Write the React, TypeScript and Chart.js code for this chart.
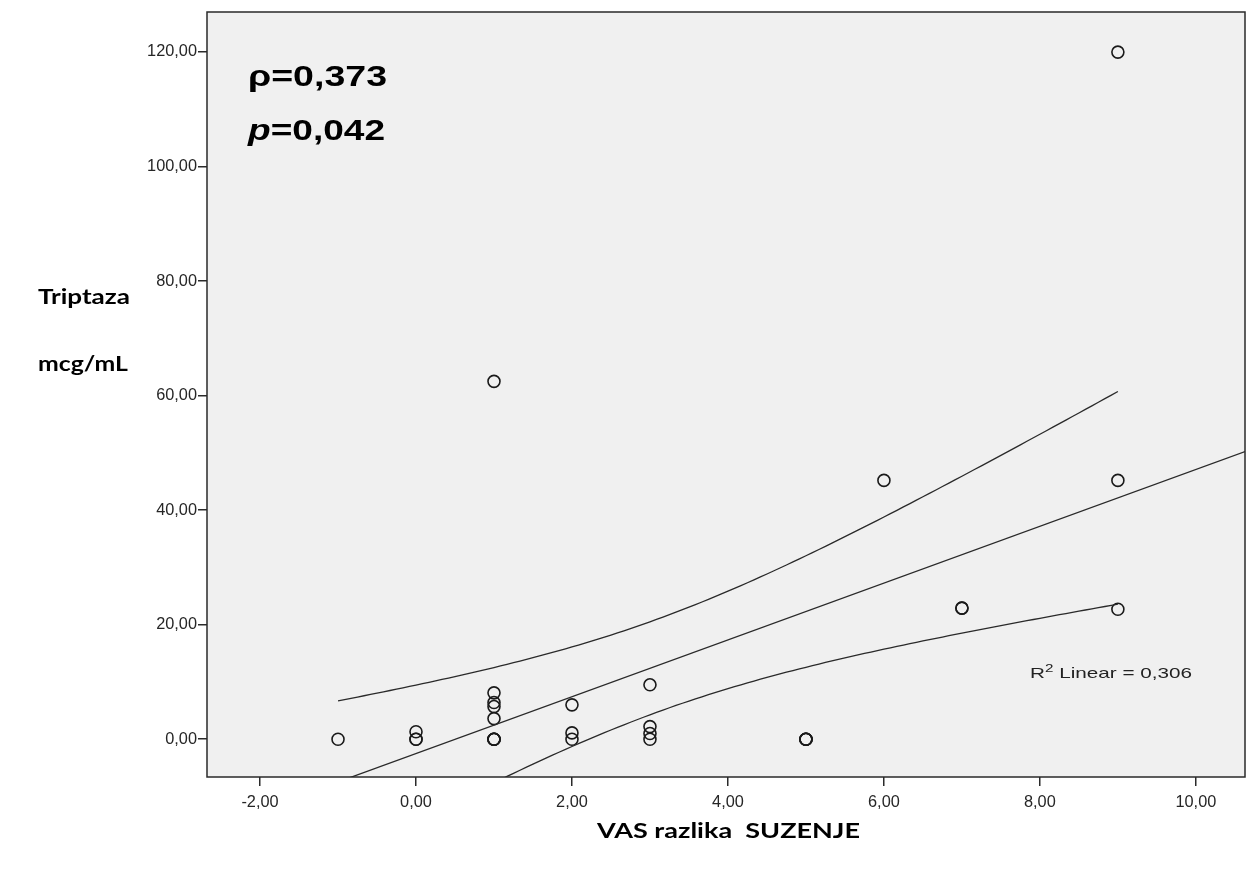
import React, { useEffect, useRef } from "react";
import { Chart, registerables } from "chart.js";

Chart.register(...registerables);

// ---- data ----
const vasDiff = [-1, 0, 0, 0, 1, 1, 1, 1, 1, 1, 1, 1, 1, 2, 2, 2, 3, 3, 3, 3, 5, 5, 5, 5, 6, 7, 7, 9, 9, 9];
const tryptase = [0, 1.3, 0, 0, 62.5, 8.1, 6.4, 5.7, 3.6, 0, 0, 0, 0, 6.0, 1.1, 0, 9.5, 2.2, 1.0, 0, 0, 0, 0, 0, 45.2, 22.9, 22.9, 120, 45.2, 22.7];
const xTicks = [-2, 0, 2, 4, 6, 8, 10];
const yTicks = [0, 20, 40, 60, 80, 100, 120];
const xLimits = [-2.68, 10.63];
const yLimits = [-6.6, 127];
const T_CRIT = 2.048; // t(0.975, df = n - 2 = 28)

const rhoText = "ρ=0,373";
const pText = "=0,042";
const r2Text = " Linear = 0,306";
const xTitle = "VAS razlika  SUZENJE";
const yTitle1 = "Triptaza";
const yTitle2 = "mcg/mL";

function regression(xs: number[], ys: number[]) {
  const n = xs.length;
  const mx = xs.reduce((a, b) => a + b, 0) / n;
  const my = ys.reduce((a, b) => a + b, 0) / n;
  let sxx = 0, sxy = 0, syy = 0;
  for (let i = 0; i < n; i++) {
    sxx += (xs[i] - mx) ** 2;
    sxy += (xs[i] - mx) * (ys[i] - my);
    syy += (ys[i] - my) ** 2;
  }
  const b = sxy / sxx;
  const a = my - b * mx;
  const s = Math.sqrt((syy - b * sxy) / (n - 2));
  return { a, b, mx, sxx, s, n };
}

const fmt = (v: number) => v.toFixed(2).replace(".", ",");

function drawFitted(ctx: CanvasRenderingContext2D, text: string, x: number, y: number, font: string, width: number) {
  ctx.save();
  ctx.font = font;
  const w = ctx.measureText(text).width;
  ctx.translate(x, y);
  ctx.scale(width / w, 1);
  ctx.textAlign = "left";
  ctx.textBaseline = "alphabetic";
  ctx.fillText(text, 0, 0);
  ctx.restore();
}

export default function App() {
  const ref = useRef<HTMLCanvasElement>(null);

  useEffect(() => {
    if (!ref.current) return;
    const fit = regression(vasDiff, tryptase);
    const xmin = Math.min(...vasDiff);
    const xmax = Math.max(...vasDiff);
    const upper: { x: number; y: number }[] = [];
    const lower: { x: number; y: number }[] = [];
    const steps = 120;
    for (let i = 0; i <= steps; i++) {
      const x = xmin + ((xmax - xmin) * i) / steps;
      const yh = fit.a + fit.b * x;
      const hw = T_CRIT * fit.s * Math.sqrt(1 / fit.n + (x - fit.mx) ** 2 / fit.sxx);
      upper.push({ x, y: yh + hw });
      lower.push({ x, y: yh - hw });
    }
    const line = [xLimits[0], xLimits[1]].map((x) => ({ x, y: fit.a + fit.b * x }));

    const SX = 1.02;
    const tickFont = "16px 'Liberation Sans', Arial, sans-serif";

    const decor = {
      id: "decor",
      beforeDraw(chart: any) {
        const { ctx, chartArea: ca } = chart;
        ctx.save();
        ctx.fillStyle = "#f0f0f0";
        ctx.fillRect(ca.left, ca.top, ca.right - ca.left, ca.bottom - ca.top);
        ctx.restore();
      },
      afterDraw(chart: any) {
        const { ctx, chartArea: ca } = chart;
        const xs = chart.scales.x;
        const ys = chart.scales.y;
        ctx.save();
        ctx.strokeStyle = "#2a2a2a";
        ctx.lineWidth = 1.5;
        ctx.strokeRect(ca.left, ca.top, ca.right - ca.left, ca.bottom - ca.top);

        // tick labels
        ctx.fillStyle = "#262626";
        ctx.font = tickFont;
        for (const t of ys.ticks) {
          const py = ys.getPixelForValue(t.value);
          ctx.save();
          ctx.translate(ca.left - 10, py);
          ctx.scale(SX, 1);
          ctx.textAlign = "right";
          ctx.textBaseline = "middle";
          ctx.fillText(fmt(t.value), 0, 0);
          ctx.restore();
        }
        for (const t of xs.ticks) {
          const px = xs.getPixelForValue(t.value);
          ctx.save();
          ctx.translate(px, ca.bottom + 18);
          ctx.scale(SX, 1);
          ctx.textAlign = "center";
          ctx.textBaseline = "top";
          ctx.fillText(fmt(t.value), 0, 0);
          ctx.restore();
        }

        // annotations
        ctx.fillStyle = "#000";
        drawFitted(ctx, rhoText, ca.left + 41, ca.top + 74, "bold 30px 'Liberation Sans', Arial, sans-serif", 139);
        // p=0,042 (italic p)
        {
          const f1 = "italic bold 30px 'Liberation Sans', Arial, sans-serif";
          const f2 = "bold 30px 'Liberation Sans', Arial, sans-serif";
          ctx.save();
          ctx.font = f1;
          const w1 = ctx.measureText("p").width;
          ctx.font = f2;
          const w2 = ctx.measureText(pText).width;
          const s = 137 / (w1 + w2);
          ctx.translate(ca.left + 41, ca.top + 128);
          ctx.scale(s, 1);
          ctx.textBaseline = "alphabetic";
          ctx.font = f1;
          ctx.fillText("p", 0, 0);
          ctx.font = f2;
          ctx.fillText(pText, w1, 0);
          ctx.restore();
        }
        // R² label
        {
          const fBig = "15px 'Liberation Sans', Arial, sans-serif";
          const fSup = "11px 'Liberation Sans', Arial, sans-serif";
          ctx.save();
          ctx.fillStyle = "#222";
          ctx.font = fBig;
          const wR = ctx.measureText("R").width;
          const wRest = ctx.measureText(r2Text).width;
          ctx.font = fSup;
          const w2 = ctx.measureText("2").width;
          const s = 162 / (wR + w2 + wRest);
          ctx.translate(1030, ys.getPixelForValue(0) - 61);
          ctx.scale(s, 1);
          ctx.textBaseline = "alphabetic";
          ctx.font = fBig;
          ctx.fillText("R", 0, 0);
          ctx.font = fSup;
          ctx.fillText("2", wR, -6);
          ctx.font = fBig;
          ctx.fillText(r2Text, wR + w2, 0);
          ctx.restore();
        }

        // axis titles
        ctx.fillStyle = "#000";
        const titleFont = "bold 20px Lato, 'Open Sans', sans-serif";
        drawFitted(ctx, yTitle1, 38, 304, titleFont, 92);
        drawFitted(ctx, yTitle2, 38, 371, titleFont, 90);
        drawFitted(ctx, xTitle, 597, 838, titleFont, 263);
        ctx.restore();
      },
    };

    const chart = new Chart(ref.current, {
      type: "scatter",
      data: {
        datasets: [
          {
            label: "upper",
            data: upper,
            showLine: true,
            borderColor: "#2a2a2a",
            borderWidth: 1.3,
            pointRadius: 0,
            fill: false,
          },
          {
            label: "lower",
            data: lower,
            showLine: true,
            borderColor: "#2a2a2a",
            borderWidth: 1.3,
            pointRadius: 0,
            fill: false,
          },
          {
            label: "fit",
            data: line,
            showLine: true,
            borderColor: "#2a2a2a",
            borderWidth: 1.3,
            pointRadius: 0,
            fill: false,
          },
          {
            label: "points",
            data: vasDiff.map((x, i) => ({ x, y: tryptase[i] })),
            pointStyle: "circle",
            pointRadius: 6,
            pointBorderWidth: 1.6,
            pointBorderColor: "#1a1a1a",
            pointBackgroundColor: "rgba(0,0,0,0)",
            showLine: false,
          },
        ],
      },
      options: {
        animation: false,
        responsive: false,
        devicePixelRatio: 1,
        layout: { autoPadding: false, padding: { top: 12, right: 2, left: 0, bottom: 0 } },
        plugins: { legend: { display: false }, tooltip: { enabled: false } },
        scales: {
          x: {
            type: "linear",
            min: xLimits[0],
            max: xLimits[1],
            afterBuildTicks: (s: any) => {
              s.ticks = xTicks.map((v) => ({ value: v }));
            },
            afterFit: (s: any) => {
              s.height = 93;
            },
            ticks: { display: false },
            grid: { drawOnChartArea: false, drawTicks: true, tickLength: 9, color: "#2a2a2a", lineWidth: 1.5 },
            border: { display: false },
          },
          y: {
            type: "linear",
            min: yLimits[0],
            max: yLimits[1],
            afterBuildTicks: (s: any) => {
              s.ticks = yTicks.map((v) => ({ value: v }));
            },
            afterFit: (s: any) => {
              s.width = 207;
            },
            ticks: { display: false },
            grid: { drawOnChartArea: false, drawTicks: true, tickLength: 9, color: "#2a2a2a", lineWidth: 1.5 },
            border: { display: false },
          },
        },
      },
      plugins: [decor],
    });
    return () => chart.destroy();
  }, []);

  return (
    <div style={{ position: "fixed", left: 0, top: 0, width: 1247, height: 870, background: "#fff" }}>
      <canvas ref={ref} width={1247} height={870} style={{ display: "block", width: 1247, height: 870 }} />
    </div>
  );
}
